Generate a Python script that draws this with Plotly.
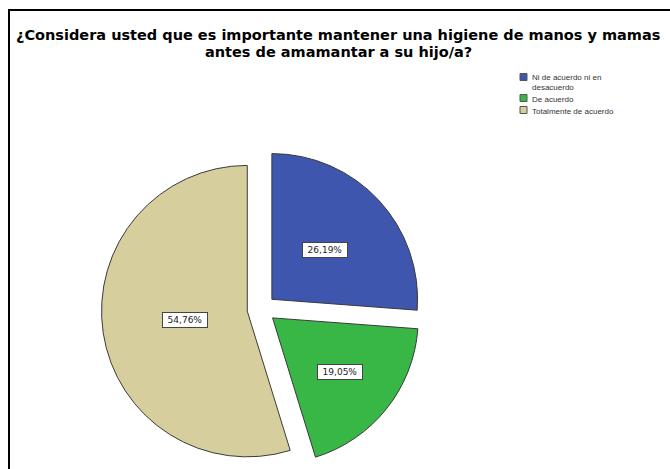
import math
import plotly.graph_objects as go

# Survey answers and their shares (%)
categories = ["Ni de acuerdo ni en desacuerdo", "De acuerdo", "Totalmente de acuerdo"]
legend_text = ["Ni de acuerdo ni en<br>desacuerdo", "De acuerdo", "Totalmente de acuerdo"]
percentages = [26.19, 19.05, 54.76]

title_lines = ["¿Considera usted que es importante mantener una higiene de manos y mamas",
               "antes de amamantar a su hijo/a?"]

# Styling
colors = ["#3E56AE", "#38B747", "#D6CF9D"]
edge_color = "#3a3a3a"
W, H = 670, 469
PULL = 0.098
PIE_CX, PIE_CY, PIE_HALF = 261.4, 309.0, 160.0   # pixel centre / half box of the pie domain
LABEL_FRAC = [0.50, 0.59, 0.43]                  # label distance along bisector (fraction of r)
TITLE_Y = [35.5, 52.5]                           # pixel centre of each title line


def fmt_pct(v):
    return f"{v:.2f}%".replace(".", ",")


fig = go.Figure()
fig.add_trace(go.Pie(
    labels=categories,
    values=percentages,
    sort=False,
    direction="clockwise",
    rotation=0,
    pull=[PULL] * len(percentages),
    marker=dict(colors=colors, line=dict(color=edge_color, width=1)),
    textinfo="none",
    hoverinfo="label+percent",
    showlegend=False,
    domain=dict(x=[(PIE_CX - PIE_HALF) / W, (PIE_CX + PIE_HALF) / W],
                y=[1 - (PIE_CY + PIE_HALF) / H, 1 - (PIE_CY - PIE_HALF) / H]),
))

annotations = []

# Chart title, one annotation per line for tight line spacing
for line, ty in zip(title_lines, TITLE_Y):
    annotations.append(dict(
        x=338 / W, y=1 - ty / H, xref="paper", yref="paper",
        text=f"<b>{line}</b>", showarrow=False, borderpad=0,
        xanchor="center", yanchor="middle",
        font=dict(family="DejaVu Sans", size=14.5, color="black"),
    ))

# Boxed percentage labels placed on each slice's bisector
r = PIE_HALF / (1 + PULL)
total = sum(percentages)
cum = 0.0
for v, frac in zip(percentages, LABEL_FRAC):
    mid = (cum + v / 2) / total * 2 * math.pi
    cum += v
    dist = PULL * r + frac * r
    px = PIE_CX + dist * math.sin(mid)
    py = PIE_CY - dist * math.cos(mid)
    annotations.append(dict(
        x=px / W, y=1 - py / H, xref="paper", yref="paper",
        text=fmt_pct(v), showarrow=False,
        width=42, height=12,
        font=dict(family="DejaVu Sans", size=9, color="#222"),
        bgcolor="white", bordercolor="#444", borderwidth=1, borderpad=1,
        xanchor="center", yanchor="middle",
    ))

# Legend drawn as swatches with text at the upper right
shapes = []
ly = 76.0
line_h, gap = 10.0, 2.0
for txt, col in zip(legend_text, colors):
    n_lines = txt.count("<br>") + 1
    sq_c = ly + (1 if n_lines > 1 else 0)
    shapes.append(dict(type="rect", xref="paper", yref="paper",
                       x0=520 / W, x1=527 / W, y0=1 - (sq_c + 3.5) / H, y1=1 - (sq_c - 3.5) / H,
                       fillcolor=col, line=dict(color="#555", width=1)))
    annotations.append(dict(
        x=530 / W, y=1 - (ly - line_h / 2) / H, xref="paper", yref="paper",
        text=txt, showarrow=False, align="left",
        xanchor="left", yanchor="top",
        font=dict(family="Liberation Sans, Arial", size=8, color="#333"),
    ))
    ly += n_lines * line_h + gap

# Frame around the chart area
shapes.append(dict(type="rect", xref="paper", yref="paper",
                   x0=9 / W, x1=1.2, y0=-0.2, y1=1 - 10 / H,
                   line=dict(color="black", width=2), fillcolor="rgba(0,0,0,0)"))

fig.update_layout(
    width=W, height=H,
    margin=dict(l=0, r=0, t=0, b=0),
    paper_bgcolor="white", plot_bgcolor="white",
    shapes=shapes,
    annotations=annotations,
)

fig.write_html("out.html")
